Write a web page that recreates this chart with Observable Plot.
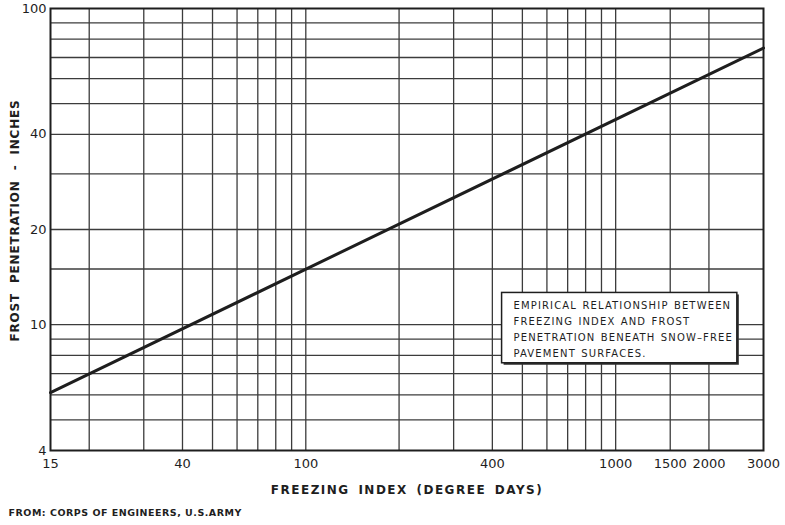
<!DOCTYPE html>
<html>
<head>
<meta charset="utf-8">
<script src="https://cdn.jsdelivr.net/npm/d3@7"></script>
<script src="https://cdn.jsdelivr.net/npm/@observablehq/plot@0.6"></script>
<style>
  html, body { margin: 0; padding: 0; background: #fff; }
  #chart { width: 785px; height: 525px; }
</style>
</head>
<body>
<div id="chart"></div>
<script>
// ---- data ----
const freezingIndex = [15, 3000];          // degree days
const frostPenetration = [6.1, 75];        // inches
const xTicks = [15, 40, 100, 400, 1000, 1500, 2000, 3000];
const yTicks = [4, 10, 20, 40, 100];
const xGrid = [20, 30, 40, 50, 60, 70, 80, 90, 100, 200, 300, 400, 500, 600, 700, 800, 900, 1000, 1500, 2000];
const yGrid = [5, 6, 7, 8, 9, 10, 15, 20, 30, 40, 50, 60, 70, 80, 90];
const xLabel = "FREEZING INDEX (DEGREE DAYS)";
const yLabel = "FROST PENETRATION - INCHES";
const caption = "FROM: CORPS OF ENGINEERS, U.S.ARMY";
const noteLines = [
  "EMPIRICAL RELATIONSHIP BETWEEN",
  "FREEZING INDEX AND FROST",
  "PENETRATION BENEATH SNOW\u2013FREE",
  "PAVEMENT SURFACES."
];
const noteBox = [{x1: 430, x2: 2470, y1: 7.55, y2: 12.6}];
const noteAnchor = [{x: 468, y: 12.15}];

const points = freezingIndex.map((fi, i) => ({fi, fp: frostPenetration[i]}));
const ink = "#1e1e1e";
const gridInk = "#3c3c3c";

const chart = Plot.plot({
  width: 785,
  height: 525,
  marginTop: 8,
  marginBottom: 75,
  marginLeft: 50,
  marginRight: 22,
  style: {fontFamily: "DejaVu Sans, sans-serif", fontSize: "13px", background: "#fff", color: ink},
  x: {type: "log", domain: [15, 3000], ticks: xTicks, tickFormat: d => String(d), tickSize: 0, tickPadding: 8, label: null},
  y: {type: "log", domain: [4, 100], ticks: yTicks, tickFormat: d => String(d), tickSize: 0, tickPadding: 4, label: null},
  marks: [
    Plot.ruleX(xGrid, {stroke: gridInk, strokeWidth: 1.3}),
    Plot.ruleY(yGrid, {stroke: gridInk, strokeWidth: 1.3}),
    Plot.frame({stroke: ink, strokeWidth: 2}),
    Plot.line(points, {x: "fi", y: "fp", stroke: ink, strokeWidth: 3}),
    Plot.rect(noteBox, {x1: "x1", x2: "x2", y1: "y1", y2: "y2", fill: "#333", dx: 2, dy: 2}),
    Plot.rect(noteBox, {x1: "x1", x2: "x2", y1: "y1", y2: "y2", fill: "#fff", stroke: ink, strokeWidth: 1.5}),
    Plot.text(noteAnchor, {x: "x", y: "y", text: () => noteLines.join("\n"), textAnchor: "start", lineAnchor: "top", lineHeight: 1.58, fontSize: 10, fill: ink, ariaDescription: "note"}),
    Plot.text([xLabel], {frameAnchor: "bottom", text: d => d, textAnchor: "middle", dy: 43, fontSize: 12, fontWeight: "bold", fill: ink, ariaDescription: "xlabel"}),
    Plot.text([yLabel], {frameAnchor: "left", text: d => d, textAnchor: "middle", dx: -35, dy: -9, rotate: -90, fontSize: 12, fontWeight: "bold", fill: ink, ariaDescription: "ylabel"}),
    Plot.text([caption], {frameAnchor: "bottom-left", text: d => d, dx: -42, dy: 65, textAnchor: "start", fontSize: 9.5, fontWeight: "bold", fill: ink, ariaDescription: "caption"})
  ]
});

const sel = name => d3.select(chart).selectAll(`g[aria-description="${name}"] text`);
sel("xlabel").style("letter-spacing", "1.5px").style("word-spacing", "3px");
sel("ylabel").style("letter-spacing", "0.8px").style("word-spacing", "5px");
sel("note").style("letter-spacing", "1.15px").style("word-spacing", "1px");
sel("caption").style("letter-spacing", "0.5px");

document.getElementById("chart").append(chart);
</script>
</body>
</html>
